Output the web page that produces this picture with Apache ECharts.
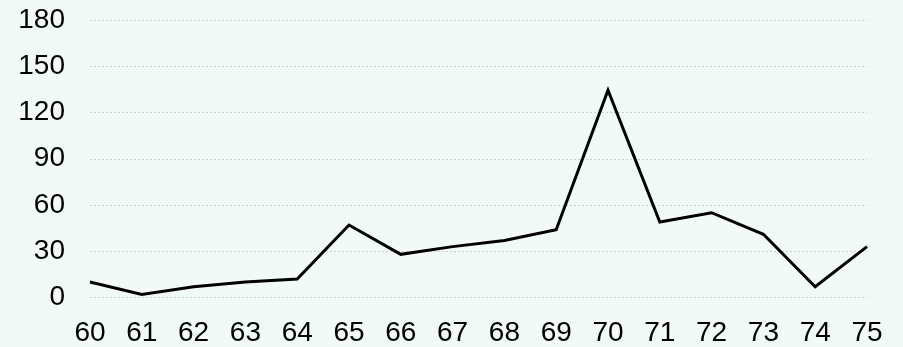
<!DOCTYPE html>
<html>
<head>
<meta charset="utf-8">
<script src="https://cdn.jsdelivr.net/npm/echarts@6/dist/echarts.min.js"></script>
<style>
  html, body { margin: 0; padding: 0; background: #f2faf8; }
  #chart { width: 903px; height: 347px; }
</style>
</head>
<body>
<div id="chart"></div>
<script>
const categories = ['60', '61', '62', '63', '64', '65', '66', '67', '68', '69', '70', '71', '72', '73', '74', '75']
const values = [10, 2, 7, 10, 12, 47, 28, 33, 37, 44, 134.5, 49, 55, 41, 7, 33]
const yMin = 0
const yMax = 180
const yStep = 30

const chart = echarts.init(document.getElementById('chart'))
chart.setOption({
  backgroundColor: '#f2faf8',
  animation: false,
  grid: { left: 90, right: 36, top: 20, bottom: 49.5, outerBoundsMode: 'none' },
  xAxis: {
    type: 'category',
    data: categories,
    boundaryGap: false,
    axisLine: { show: false },
    axisTick: { show: false },
    axisLabel: { color: '#000', fontSize: 28, fontFamily: 'Liberation Sans, Arial', margin: 22 },
  },
  yAxis: {
    type: 'value',
    min: yMin,
    max: yMax,
    interval: yStep,
    axisLine: { show: false },
    axisTick: { show: false },
    axisLabel: { color: '#000', fontSize: 28, fontFamily: 'Liberation Sans, Arial', margin: 25 },
    splitLine: { lineStyle: { color: '#c9cfcd', type: [2, 2], width: 1 } },
  },
  series: [{
    type: 'line',
    data: values,
    symbol: 'none',
    lineStyle: { color: '#000', width: 3, join: 'miter' },
  }],
})
</script>
</body>
</html>
